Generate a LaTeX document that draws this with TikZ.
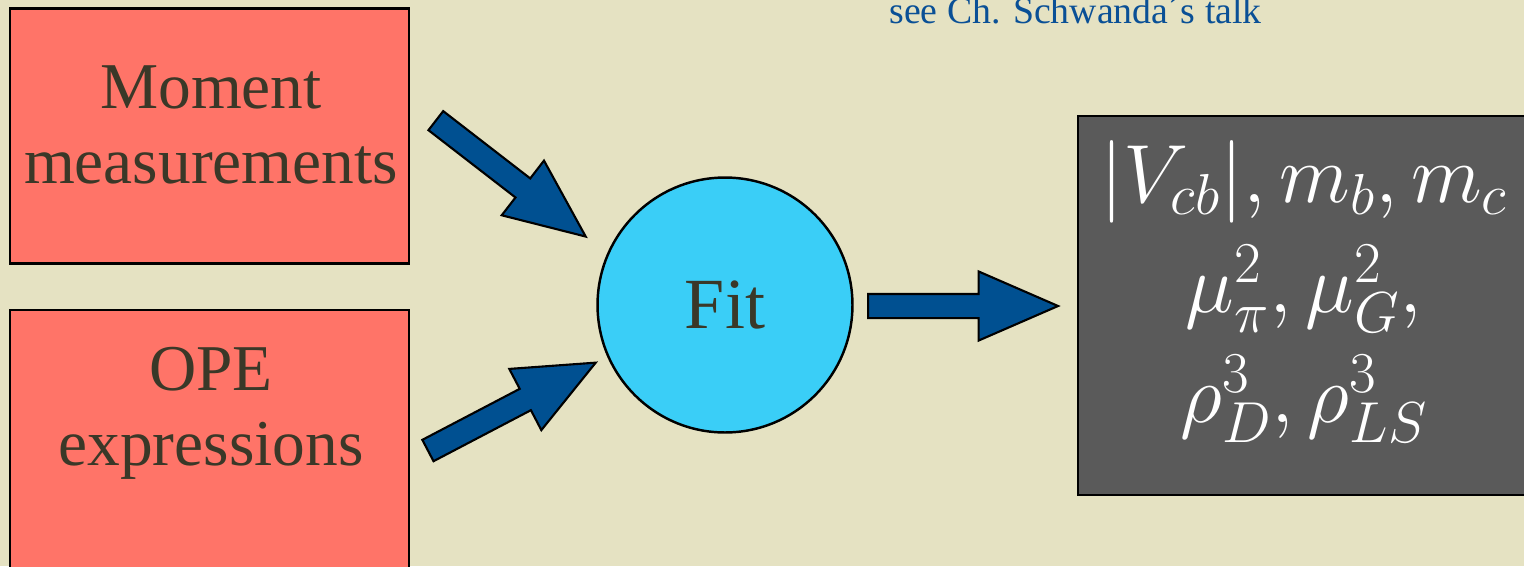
\RequirePackage{fix-cm}
\documentclass[tikz,border=0pt]{standalone}
\usepackage[no-math]{fontspec}
\setmainfont{Liberation Serif}
\usetikzlibrary{
  calc,%
  positioning,%
  shapes.arrows
}
\definecolor{slidebg}{RGB}{229,226,194}
\definecolor{boxred}{RGB}{255,116,104}
\definecolor{fitcyan}{RGB}{58,206,247}
\definecolor{resgray}{RGB}{90,90,90}
\definecolor{arrowblue}{RGB}{0,80,145}
\definecolor{inktext}{RGB}{58,56,40}
\definecolor{talkblue}{RGB}{10,80,150}
\tikzset{>=latex}
\tikzset{
  inputbox/.style={draw=black, line width=1.6pt, fill=boxred, inner sep=0pt,
    minimum width=7.98cm, minimum height=5.1cm},
  boxtext/.style={text=inktext, align=center, inner sep=0pt,
    font=\fontsize{37.2}{42.6}\selectfont},
  fitcircle/.style={circle, draw=black, line width=1.4pt, fill=fitcyan,
    minimum size=5.1cm, inner sep=0pt, text=inktext,
    font=\fontsize{41}{48}\selectfont},
  resultbox/.style={draw=black, line width=1.6pt, fill=resgray, inner sep=0pt,
    minimum width=9.14cm, minimum height=7.58cm},
  restext/.style={text=white, align=center, inner sep=0pt,
    font={\fontsize{47}{62.6}\selectfont\lineskiplimit-100pt\relax}},
  fatarrow/.style={single arrow, draw=black, line width=1.2pt, fill=arrowblue,
    inner sep=0pt, inner ysep=0.22cm, minimum width=0pt,
    single arrow head extend=0.45cm, single arrow tip angle=47}
}
% block arrow between two named coordinates
\newcommand{\blockarrow}[3]{%
  \path let \p1=($(#3)-(#2)$), \n1={atan2(\y1,\x1)}, \n2={veclen(\x1,\y1)} in
    node[fatarrow, minimum height=\n2, rotate=\n1, anchor=tail] (#1) at (#2) {};%
}

\begin{document}
\begin{tikzpicture}[x=0.02cm, y=-0.02cm]
  \useasboundingbox (0,0) rectangle (1524,566);
  \fill[slidebg] (0,0) rectangle (1524,566); %

  \node[text=talkblue, anchor=base west, inner sep=0pt,
    font=\fontsize{21.5}{26}\selectfont] (talk) at (889,23.5)
    {see Ch. Schwanda´s talk};

  \node[inputbox] (meas) at (209.5,136) {};
  \node[inputbox, minimum height=5.2cm] (ope) at (209.5,440) {};
  % base anchor of a multi-line node sits on its last line
  \node[boxtext, anchor=base] (meastxt) at (211,183) {Moment\\measurements};
  \node[boxtext, anchor=base] (opetxt) at (211,465) {OPE\\expressions};

  \node[fitcircle] (fit) at (725,305) {Fit};

  \node[resultbox] (res) at (1306.5,305.5) {};
  \node[restext, anchor=base] (restxt) at (1304,422)
    {$|V_{cb}|, m_b, m_c$\\ $\mu_\pi^2, \mu_G^2,$\\ $\rho_D^3, \rho_{LS}^3$};

  \coordinate (measout) at (435,120); %
  \coordinate (fitinA) at (585,236); %
  \coordinate (opeout) at (427,451); %
  \coordinate (fitinB) at (595,363); %
  \coordinate (fitout) at (867,306); %
  \coordinate (resin) at (1057,306); %
  \blockarrow{arrA}{measout}{fitinA}
  \blockarrow{arrB}{opeout}{fitinB}
  \blockarrow{arrC}{fitout}{resin}
\end{tikzpicture}
\end{document}
